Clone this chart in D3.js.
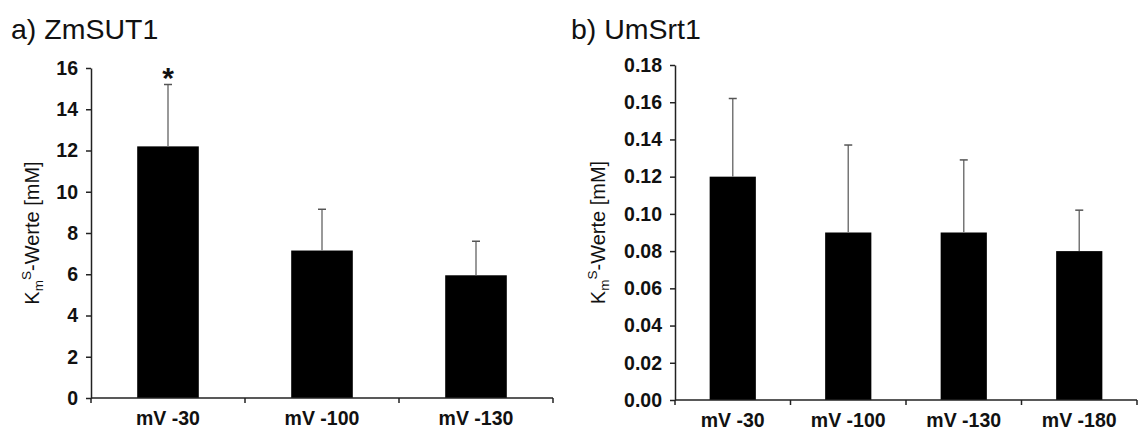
<!DOCTYPE html>
<html><head><meta charset="utf-8">
<script src="https://cdn.jsdelivr.net/npm/d3@7"></script>
<style>body{margin:0;background:#fff}text{font-family:Arial,"Liberation Sans",sans-serif}</style>
</head><body><svg id="c" width="1141" height="432"></svg>
<script>
const catsA = ["mV -30","mV -100","mV -130"];
const valsA = [12.2, 7.15, 5.95];
const errA  = [3.0, 2.0, 1.65];
const ticksA = [0,2,4,6,8,10,12,14,16];
const catsB = ["mV -30","mV -100","mV -130","mV -180"];
const valsB = [0.12, 0.09, 0.09, 0.08];
const errB  = [0.042, 0.047, 0.039, 0.022];
const ticksB = [0,0.02,0.04,0.06,0.08,0.10,0.12,0.14,0.16,0.18];

const svg = d3.select("#c");

function panel(o){
  const g = svg.append("g");
  const x = d3.scaleBand().domain(o.cats).range([o.x0,o.x1]).paddingInner(0.6).paddingOuter(0.3);
  const y = d3.scaleLinear().domain([0,o.max]).range([o.y0,o.yT]);
  g.selectAll("rect").data(o.vals).join("rect")
    .attr("x",(d,i)=>x(o.cats[i])).attr("width",x.bandwidth())
    .attr("y",d=>y(d)).attr("height",d=>y(0)-y(d)).attr("fill","#000");
  o.vals.forEach((v,i)=>{
    const cx = x(o.cats[i])+x.bandwidth()/2;
    g.append("line").attr("x1",cx).attr("x2",cx).attr("y1",y(v)).attr("y2",y(v+o.err[i]))
      .attr("stroke","#777").attr("stroke-width",1.5);
    g.append("line").attr("x1",cx-4).attr("x2",cx+4).attr("y1",y(v+o.err[i])).attr("y2",y(v+o.err[i]))
      .attr("stroke","#555").attr("stroke-width",1.5);
  });
  const ya = g.append("g").attr("transform",`translate(${o.x0},0)`)
    .call(d3.axisLeft(y).tickValues(o.ticks).tickFormat(o.fmt).tickSize(5).tickPadding(8).tickSizeOuter(0));
  ya.selectAll("text").attr("font-size",19.5).attr("font-weight","bold").attr("fill","#111");
  ya.select(".domain").attr("stroke","#222").attr("stroke-width",1.5);
  ya.selectAll(".tick line").attr("stroke","#222").attr("stroke-width",1.5);
  const xa = g.append("g").attr("transform",`translate(0,${o.y0})`);
  xa.append("line").attr("x1",o.x0).attr("x2",o.x1).attr("stroke","#222").attr("stroke-width",1.5);
  const step = (o.x1-o.x0)/o.cats.length;
  d3.range(o.cats.length+1).forEach(k=>{
    xa.append("line").attr("x1",o.x0+k*step).attr("x2",o.x0+k*step).attr("y1",0).attr("y2",5)
      .attr("stroke","#222").attr("stroke-width",1.5);
  });
  xa.selectAll("text.cl").data(o.cats).join("text").attr("class","cl")
    .attr("x",d=>x(d)+x.bandwidth()/2).attr("y",o.labY-o.y0).attr("text-anchor","middle")
    .attr("font-size",19.5).attr("font-weight","bold").attr("fill","#111").text(d=>d);
  const yl = g.append("text").attr("transform",`translate(${o.ylx},${(o.y0+o.yT)/2}) rotate(-90)`)
    .attr("text-anchor","middle").attr("font-size",20).attr("fill","#111");
  yl.append("tspan").text("K");
  yl.append("tspan").attr("font-size",13.5).attr("dy",4).text("m");
  yl.append("tspan").attr("font-size",13.5).attr("dy",-12).text("S");
  yl.append("tspan").attr("dy",8).text(o.ylab);
  svg.append("text").attr("x",o.tx).attr("y",39).attr("font-size",28.5).attr("fill","#111").text(o.title);
  return {x,y,g};
}

const A = panel({cats:catsA,vals:valsA,err:errA,ticks:ticksA,max:16,fmt:d3.format("d"),
  x0:91,x1:553,y0:398,yT:68,labY:425,ylx:39,ylab:"-Werte  [mM]",tx:11,title:"a) ZmSUT1"});
A.g.append("text").attr("x",A.x(catsA[0])+A.x.bandwidth()/2).attr("y",A.y(valsA[0]+errA[0])+3)
  .attr("text-anchor","middle").attr("font-size",30).attr("font-weight","bold").attr("fill","#111").text("*");
panel({cats:catsB,vals:valsB,err:errB,ticks:ticksB,max:0.18,fmt:d3.format(".2f"),
  x0:675,x1:1137,y0:400,yT:65,labY:427,ylx:605,ylab:"-Werte [mM]",tx:571,title:"b) UmSrt1"});
</script></body></html>
